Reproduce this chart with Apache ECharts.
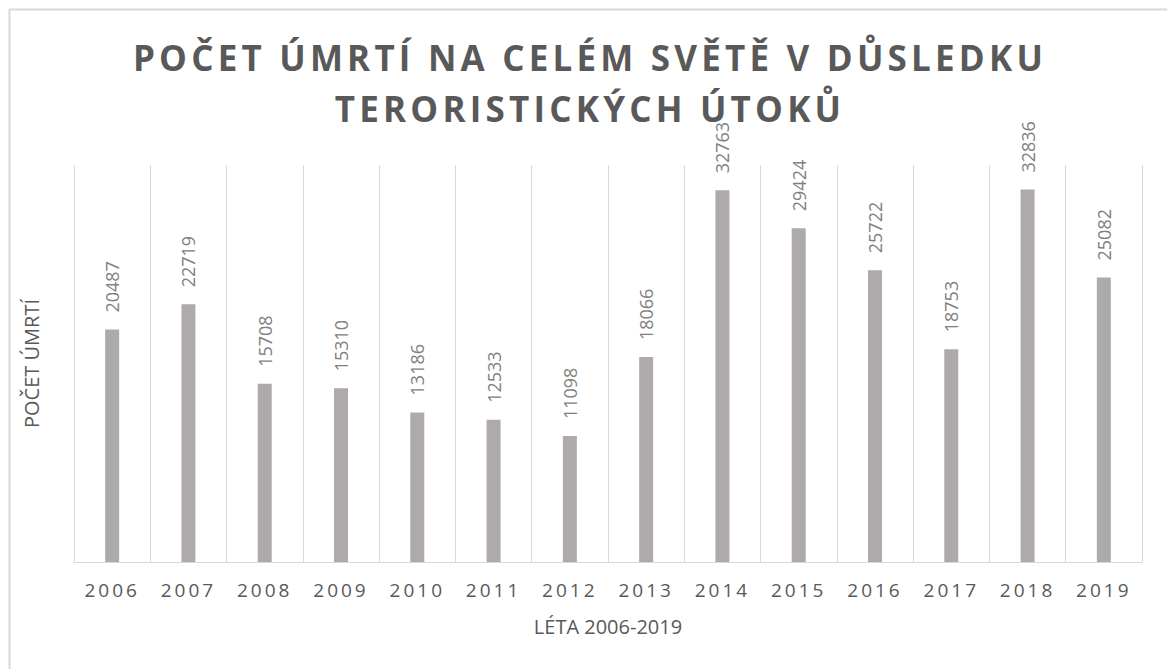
<!DOCTYPE html>
<html>
<head>
<meta charset="utf-8">
<script src="https://cdn.jsdelivr.net/npm/echarts@6/dist/echarts.min.js"></script>
<style>
html,body{margin:0;padding:0;background:#fff;}
#chart{width:1167px;height:669px;}
#chart text[style*="35px"]{letter-spacing:4.2px;}
#chart text[style*="19px"]{letter-spacing:3px;}
</style>
</head>
<body>
<div id="chart"></div>
<script>
const titleLine1 = 'POČET ÚMRTÍ NA CELÉM SVĚTĚ V DŮSLEDKU';
const titleLine2 = 'TERORISTICKÝCH ÚTOKŮ';
const years = ['2006','2007','2008','2009','2010','2011','2012','2013','2014','2015','2016','2017','2018','2019'];
const deaths = [20487, 22719, 15708, 15310, 13186, 12533, 11098, 18066, 32763, 29424, 25722, 18753, 32836, 25082];
const xAxisName = 'LÉTA 2006-2019';
const yAxisName = 'POČET ÚMRTÍ';

const chart = echarts.init(document.getElementById('chart'), null, {renderer: 'svg'});
const FONT = '"Open Sans", "DejaVu Sans", sans-serif';
chart.setOption({
  animation: false,
  backgroundColor: '#ffffff',
  title: [
    {text: titleLine1, left: 585, top: 27, textAlign: 'center',
     textStyle: {fontFamily: FONT, fontWeight: 'bold', fontSize: 35, color: '#595959', lineHeight: 51}},
    {text: titleLine2, left: 585, top: 78, textAlign: 'center',
     textStyle: {fontFamily: FONT, fontWeight: 'bold', fontSize: 35, color: '#595959', lineHeight: 51}}
  ],
  graphic: [{
    type: 'rect', left: 7, top: 7, silent: true,
    shape: {x: 0, y: 0, width: 1200, height: 700},
    style: {fill: 'none', stroke: '#d9d9d9', lineWidth: 2}
  }],
  grid: {left: 74, right: 25, top: 165, bottom: 107, containLabel: false},
  xAxis: {
    type: 'category',
    data: years,
    boundaryGap: true,
    name: xAxisName,
    nameLocation: 'middle',
    nameGap: 54,
    nameTextStyle: {fontFamily: FONT, fontSize: 20, color: '#595959'},
    axisLine: {show: true, lineStyle: {color: '#d9d9d9', width: 1}},
    axisTick: {show: false},
    axisLabel: {fontFamily: FONT, fontSize: 19, color: '#595959', margin: 18, interval: 0},
    splitLine: {show: true, interval: 0, lineStyle: {color: '#d9d9d9', width: 1}}
  },
  yAxis: {
    type: 'value',
    min: 0,
    max: 35000,
    name: yAxisName,
    nameLocation: 'middle',
    nameRotate: 90,
    nameGap: 33,
    nameTextStyle: {fontFamily: FONT, fontSize: 20, color: '#595959'},
    axisLine: {show: false},
    axisTick: {show: false},
    axisLabel: {show: false},
    splitLine: {show: false}
  },
  series: [{
    type: 'bar',
    data: deaths,
    barWidth: 14,
    itemStyle: {color: '#aeaaaa'},
    label: {
      show: true,
      position: 'top',
      rotate: 90,
      align: 'left',
      verticalAlign: 'middle',
      distance: 17,
      fontFamily: FONT,
      fontSize: 18,
      color: '#808080'
    }
  }]
});
</script>
</body>
</html>
